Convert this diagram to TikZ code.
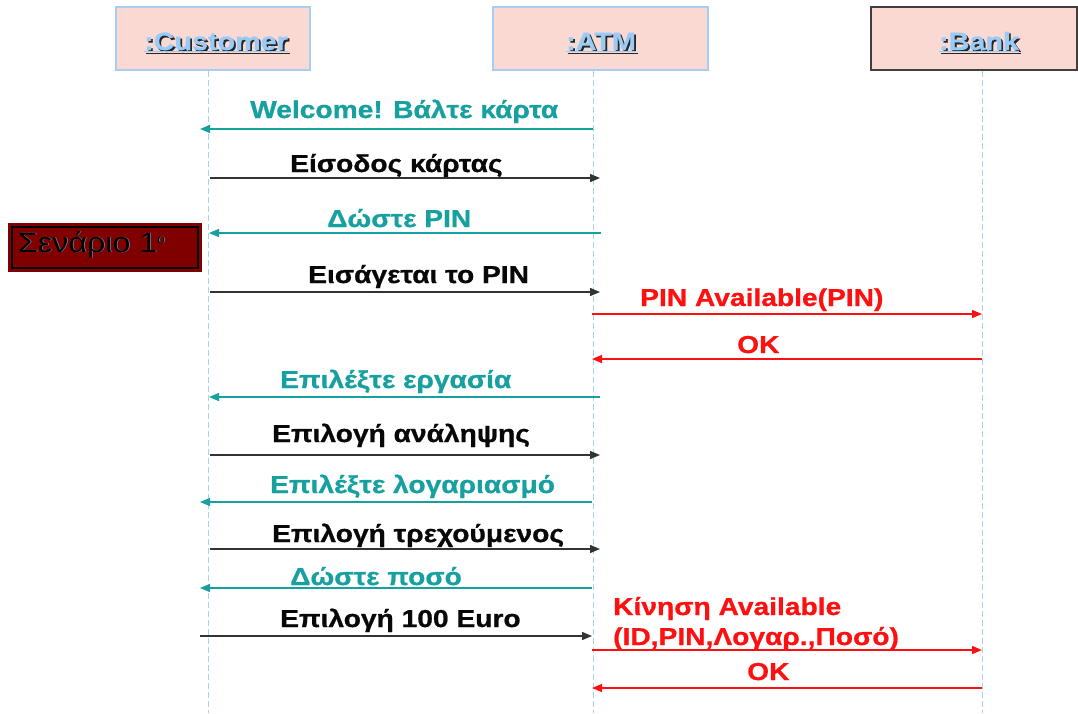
\documentclass[tikz,border=0pt]{standalone}
\usepackage{fontspec}
\setmainfont{Liberation Sans}[FakeStretch=1.15,BoldFeatures={FakeBold=0.8}]
\usetikzlibrary{arrows.meta}

\definecolor{boxfill}{HTML}{FAD9D2}
\definecolor{boxline}{HTML}{A8CDF2}
\definecolor{bankline}{HTML}{404040}
\definecolor{lifeline}{HTML}{A6D6DF}
\definecolor{titleblue}{HTML}{9ACBF7}
\definecolor{msgteal}{HTML}{17A0A0}
\definecolor{msgred}{HTML}{FF1010}
\definecolor{msgblack}{HTML}{080808}
\definecolor{scenred}{HTML}{800000}
\definecolor{scenglow}{HTML}{7C8CA8}

\begin{document}
\begin{tikzpicture}[x=1pt,y=-1pt,
  objbox/.style={draw=boxline,line width=1.3pt,fill=boxfill},
  lline/.style={draw=lifeline,line width=1pt,dash pattern=on 6pt off 3pt},
  objtitle/.style={font=\fontsize{25}{28}\bfseries,text=titleblue,inner sep=0pt,anchor=base},
  objshadow/.style={font=\fontsize{25}{28}\bfseries,text=black!85,inner sep=0pt,anchor=base},
  msg/.style={font=\fontsize{24.5}{30}\selectfont\bfseries,inner sep=0pt,anchor=base west},
  tealtxt/.style={msg,text=msgteal},
  redtxt/.style={msg,text=msgred},
  blacktxt/.style={msg,text=msgblack},
  scentxt/.style={font=\fontsize{28}{30}\selectfont,inner sep=0pt,anchor=base west},
  arr/.style={line width=1.3pt,-{Triangle[length=10pt,width=8pt]}},
  tealarr/.style={arr,draw=msgteal},
  redarr/.style={arr,draw=msgred},
  blackarr/.style={arr,draw=black!80}
]
\useasboundingbox (0,0) rectangle (1078,713);

% object boxes
\draw[objbox] (116,7) rectangle (310,70);
\draw[objbox] (493,7) rectangle (708,70);
\draw[draw=bankline,line width=1.3pt,fill=boxfill] (871,7) rectangle (1077,70);

% object titles (dark shadow under light blue)
\node[objshadow] (custS) at (217.8,51.8) {\underline{:Customer}};
\node[objtitle]  (cust)  at (216,50)     {\underline{:Customer}};
\node[objshadow] (atmS)  at (602.8,51.8) {\underline{:ATM}};
\node[objtitle]  (atm)   at (601,50)     {\underline{:ATM}};
\node[objshadow] (bankS) at (980.8,51.8) {\underline{:Bank}};
\node[objtitle]  (bank)  at (979,50)     {\underline{:Bank}};

% lifelines
\coordinate (custTop) at (208,71);
\coordinate (custBot) at (208,713);
\coordinate (atmTop)  at (593,71);
\coordinate (atmBot)  at (593,713);
\coordinate (bankTop) at (982,71);
\coordinate (bankBot) at (982,713);
\draw[lline] (custTop) -- (custBot);
\draw[lline] (atmTop) -- (atmBot);
\draw[lline] (bankTop) -- (bankBot);

% scenario label
\fill[scenred] (8,223) rectangle (202,272);
\draw[black,line width=1.4pt] (12,227) rectangle (198,268);
\node[scentxt,text=scenglow] (scenS) at (18.7,252.7) {Σενάριο 1\raisebox{9pt}{\fontsize{12}{12}\selectfont ο}};
\node[scentxt,text=black] (scen) at (18,252) {Σενάριο 1\raisebox{9pt}{\fontsize{12}{12}\selectfont ο}};

% message end points
\coordinate (c1) at (200,129);  \coordinate (a1) at (593,129);
\coordinate (c2) at (210,178);  \coordinate (a2) at (600,178);
\coordinate (c3) at (209,233);  \coordinate (a3) at (601,233);
\coordinate (c4) at (210,292);  \coordinate (a4) at (600,292);
\coordinate (a5) at (592,314);  \coordinate (b5) at (982,314);
\coordinate (a6) at (592,359);  \coordinate (b6) at (982,359);
\coordinate (c7) at (209,397);  \coordinate (a7) at (600,397);
\coordinate (c8) at (210,455);  \coordinate (a8) at (600,455);
\coordinate (c9) at (200,502);  \coordinate (a9) at (592,502);
\coordinate (c10) at (210,549); \coordinate (a10) at (600,549);
\coordinate (c11) at (200,588); \coordinate (a11) at (592,588);
\coordinate (c12) at (200,636); \coordinate (a12) at (592,636);
\coordinate (a13) at (592,650); \coordinate (b13) at (982,650);
\coordinate (a14) at (592,688); \coordinate (b14) at (982,688);

% messages
\node[tealtxt]  (t1)  at (250,118) {Welcome! Βάλτε κάρτα};
\draw[tealarr] (a1) -- (c1);
\node[blacktxt] (t2)  at (290,172) {Είσοδος κάρτας};
\draw[blackarr] (c2) -- (a2);
\node[tealtxt]  (t3)  at (327,227) {Δώστε PIN};
\draw[tealarr] (a3) -- (c3);
\node[blacktxt] (t4)  at (308,283) {Εισάγεται το PIN};
\draw[blackarr] (c4) -- (a4);
\node[redtxt]   (t5)  at (640,306) {PIN Available(PIN)};
\draw[redarr] (a5) -- (b5);
\node[redtxt]   (t6)  at (737,353) {OK};
\draw[redarr] (b6) -- (a6);
\node[tealtxt]  (t7)  at (280,388) {Επιλέξτε εργασία};
\draw[tealarr] (a7) -- (c7);
\node[blacktxt] (t8)  at (272,442) {Επιλογή ανάληψης};
\draw[blackarr] (c8) -- (a8);
\node[tealtxt]  (t9)  at (270,493) {Επιλέξτε λογαριασμό};
\draw[tealarr] (a9) -- (c9);
\node[blacktxt] (t10) at (272,542) {Επιλογή τρεχούμενος};
\draw[blackarr] (c10) -- (a10);
\node[tealtxt]  (t11) at (290,585) {Δώστε ποσό};
\draw[tealarr] (a11) -- (c11);
\node[blacktxt] (t12) at (280,627) {Επιλογή 100 Euro};
\draw[blackarr] (c12) -- (a12);
% two-line label: its base anchor sits on the last line
\node[redtxt,align=left] (t13) at (613,645) {Κίνηση Available\\(ID,PIN,Λογαρ.,Ποσό)};
\draw[redarr] (a13) -- (b13);
\node[redtxt]   (t14) at (747,680) {OK};
\draw[redarr] (b14) -- (a14);
\end{tikzpicture}
\end{document}
